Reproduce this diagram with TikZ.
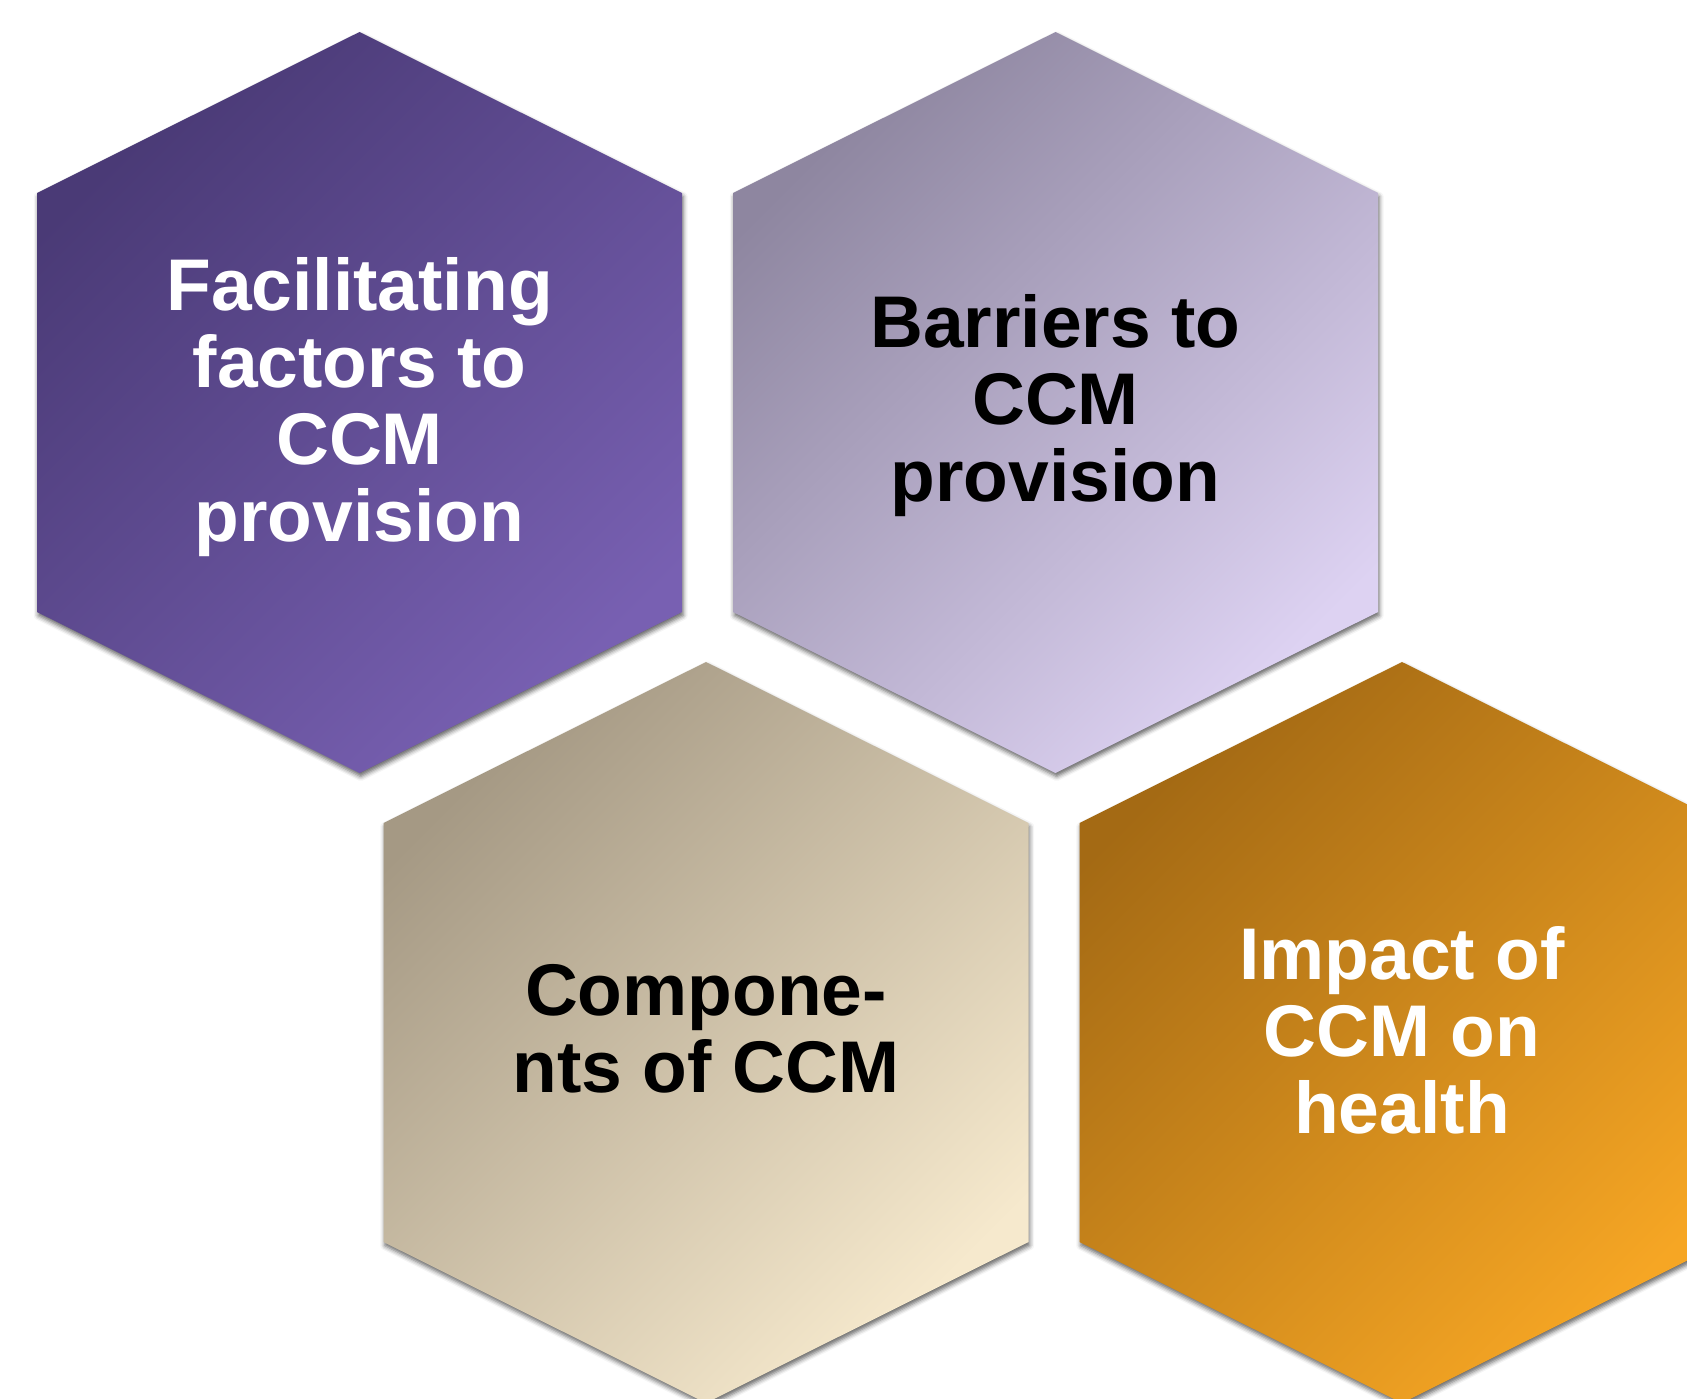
\documentclass[tikz,border=0pt]{standalone}
\usepackage{fontspec}
\setmainfont{Liberation Sans}
\usepackage{xcolor}
\definecolor{ccmPlumDark}{HTML}{4A3A76}
\definecolor{ccmPlumLight}{HTML}{7860B2}
\definecolor{ccmLilacDark}{HTML}{8E86A0}
\definecolor{ccmLilacLight}{HTML}{DDD2F2}
\definecolor{ccmSandDark}{HTML}{A59984}
\definecolor{ccmSandLight}{HTML}{F6E9CD}
\definecolor{ccmAmberDark}{HTML}{A46A14}
\definecolor{ccmAmberLight}{HTML}{F6A624}
\usetikzlibrary{shadows.blur}

\begin{document}
\begin{tikzpicture}[
      x=0.5pt, y=-0.5pt,
      every node/.style={font=\fontsize{36.6}{38.5}\selectfont\bfseries},
      cell/.style={blur shadow={shadow xshift=0.6pt,shadow yshift=-1.8pt,
                   shadow blur radius=2.2pt,shadow opacity=60}},
      lbl/.style={align=center, inner sep=0pt},
    ]
    \useasboundingbox (0,0) rectangle (1687,1398);
    \clip (0,0) rectangle (1687,1398);

    % Top row
    \path[cell, top color=ccmPlumDark, bottom color=ccmPlumLight, shading angle=45]
      (359.5,32) -- ++(322.5,161) -- ++(0,419) -- ++(-322.5,161)
      -- ++(-322.5,-161) -- ++(0,-419) -- cycle;
    \node[lbl, white] (facil) at (359.5,407) {Facilitating\\factors to\\CCM\\provision};

    \path[cell, top color=ccmLilacDark, bottom color=ccmLilacLight, shading angle=45]
      (1055.5,32) -- ++(322.5,161) -- ++(0,419) -- ++(-322.5,161)
      -- ++(-322.5,-161) -- ++(0,-419) -- cycle;
    \node[lbl, black] (barr) at (1055.5,406) {Barriers to\\CCM\\provision};

    % Bottom row, shifted half a cell
    \path[cell, top color=ccmSandDark, bottom color=ccmSandLight, shading angle=45]
      (706,662) -- ++(322.5,161) -- ++(0,419) -- ++(-322.5,161)
      -- ++(-322.5,-161) -- ++(0,-419) -- cycle;
    \node[lbl, black] (comp) at (706,1029) {Compone-\\nts of CCM};

    \path[cell, top color=ccmAmberDark, bottom color=ccmAmberLight, shading angle=45]
      (1402,662) -- ++(322.5,161) -- ++(0,419) -- ++(-322.5,161)
      -- ++(-322.5,-161) -- ++(0,-419) -- cycle;
    \node[lbl, white] (impact) at (1402,1030) {Impact of\\CCM on\\health};

  \end{tikzpicture}
\end{document}
